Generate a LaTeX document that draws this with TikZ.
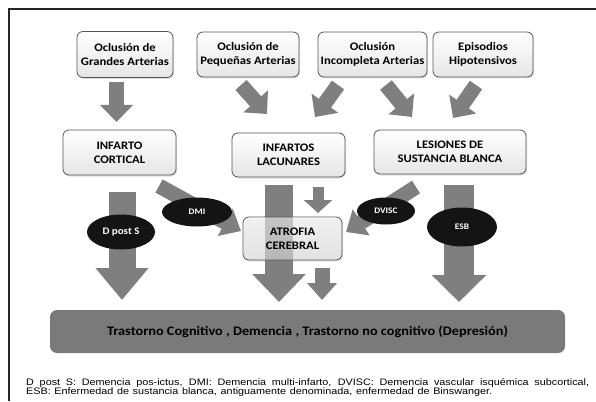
\documentclass[tikz,border=0pt]{standalone}
\usepackage{fontspec}
\setmainfont{Carlito}[FakeStretch=1.1]
\newfontfamily\notafont{Liberation Sans}[FakeStretch=1.15]
\usetikzlibrary{arrows.meta,shapes.geometric,shadows}
\definecolor{flecha}{HTML}{7F7F7F}
\definecolor{barra}{HTML}{7A7A7A}
\definecolor{borde}{HTML}{555555}
\tikzset{
	caja/.style={draw=borde,line width=0.8pt,rounded corners=6pt,top color=white,bottom color=gray!20,
		align=center,inner sep=2pt,font=\bfseries\fontsize{11.5}{14}\selectfont,
		drop shadow={shadow xshift=1pt,shadow yshift=-1.5pt,opacity=0.25}},
	elipse/.style={ellipse,fill=black!92,text=white,inner sep=0pt,font=\bfseries\fontsize{8.5}{10}\selectfont},
	nota/.style={anchor=base west,inner sep=0pt,font=\notafont\fontsize{9.4}{9.5}\selectfont},
	flechita/.style={flecha,line width=15pt,-{Triangle[length=17pt,width=32pt]}},
	flechota/.style={flecha,line width=28pt,-{Triangle[length=28pt,width=52pt]}}
}
\begin{document}
\begin{tikzpicture}[x=1pt,y=-1pt]
		\useasboundingbox (0,0) rectangle (596,401);
		\draw[line width=2pt,black!85] (9,401) -- (9,9) -- (596,9);
		\node[caja,minimum width=96pt,minimum height=46pt] (og) at (125,54.5) {Oclusión de\\Grandes Arterias};
		\node[caja,minimum width=102pt,minimum height=45pt] (op) at (248,54.5) {Oclusión de\\Pequeñas Arterias};
		\node[caja,minimum width=109pt,minimum height=45pt] (oi) at (372.5,54.5) {Oclusión\\Incompleta Arterias};
		\node[caja,minimum width=100pt,minimum height=45pt] (eh) at (483,54.5) {Episodios\\Hipotensivos};
		\node[caja,minimum width=113pt,minimum height=45pt] (ic) at (119.5,152.5) {INFARTO\\CORTICAL};
		\node[caja,minimum width=113pt,minimum height=44pt] (il) at (288.5,155) {INFARTOS\\LACUNARES};
		\node[caja,minimum width=152pt,minimum height=44pt] (lsb) at (450,152) {LESIONES DE\\SUSTANCIA BLANCA};
		\coordinate (a1i) at (116.5,82);
		\coordinate (a1f) at (116.5,122);
		\coordinate (a2i) at (241,85);
		\coordinate (a2f) at (267,114);
		\coordinate (a3i) at (338,85);
		\coordinate (a3f) at (315,117);
		\coordinate (a4i) at (386,85);
		\coordinate (a4f) at (412,117);
		\coordinate (a5i) at (476,85);
		\coordinate (a5f) at (453,118);
		\draw[flechita] (a1i) -- (a1f);
		\draw[flechita] (a2i) -- (a2f);
		\draw[flechita] (a3i) -- (a3f);
		\draw[flechita] (a4i) -- (a4f);
		\draw[flechita] (a5i) -- (a5f);
		\coordinate (b1i) at (122,192);
		\coordinate (b1f) at (122,300);
		\coordinate (b2i) at (159,186);
		\coordinate (b2f) at (241,231);
		\coordinate (b3i) at (279,185);
		\coordinate (b3f) at (279,302);
		\coordinate (b4i) at (318,187);
		\coordinate (b4f) at (318,213);
		\coordinate (b5i) at (322,268);
		\coordinate (b5f) at (322,300);
		\coordinate (b6i) at (416,187);
		\coordinate (b6f) at (346,232);
		\coordinate (b7i) at (459,185);
		\coordinate (b7f) at (459,302);
		\draw[flechota,line width=27pt,-{Triangle[length=32pt,width=51pt]}] (b1i) -- (b1f);
		\draw[flechita,-{Triangle[length=18pt,width=30pt]}] (b2i) -- (b2f);
		\draw[flechota] (b3i) -- (b3f);
		\draw[flechita,line width=11pt,-{Triangle[length=13pt,width=28pt]}] (b4i) -- (b4f);
		\draw[flechita,-{Triangle[length=17pt,width=29pt]}] (b5i) -- (b5f);
		\draw[flechita,-{Triangle[length=18pt,width=30pt]}] (b6i) -- (b6f);
		\draw[flechota,line width=30pt,-{Triangle[length=27pt,width=53pt]}] (b7i) -- (b7f);
		\node[caja,drop shadow={opacity=0},fill opacity=0.55,text opacity=1,minimum width=99pt,minimum height=43pt] (ac) at (292.5,238.5) {ATROFIA\\CEREBRAL};
		\node[elipse,minimum width=68pt,minimum height=35pt,font=\bfseries\fontsize{10}{11}\selectfont] (dps) at (121,232) {D post S};
		\node[elipse,minimum width=70pt,minimum height=29pt] (dmi) at (197,212) {DMI};
		\node[elipse,minimum width=58pt,minimum height=27pt] (dvisc) at (386,211) {DVISC};
		\node[elipse,minimum width=70pt,minimum height=39pt] (esb) at (462,227) {ESB};
		\node[fill=barra,rounded corners=7pt,minimum width=515pt,minimum height=43pt,font=\bfseries\fontsize{13}{15}\selectfont] (tc) at (307.5,331.5) {Trastorno Cognitivo , Demencia , Trastorno no cognitivo (Depresión)};
		\node[nota] (nota1) at (26,385) {\makebox[563pt][s]{D post S: Demencia pos-ictus, DMI: Demencia multi-infarto, DVISC: Demencia vascular isquémica subcortical,}};
		\node[nota] (nota2) at (26,394.5) {\makebox[466pt][s]{ESB: Enfermedad de sustancia blanca, antiguamente denominada, enfermedad de Binswanger.}};
	\end{tikzpicture}
\end{document}
